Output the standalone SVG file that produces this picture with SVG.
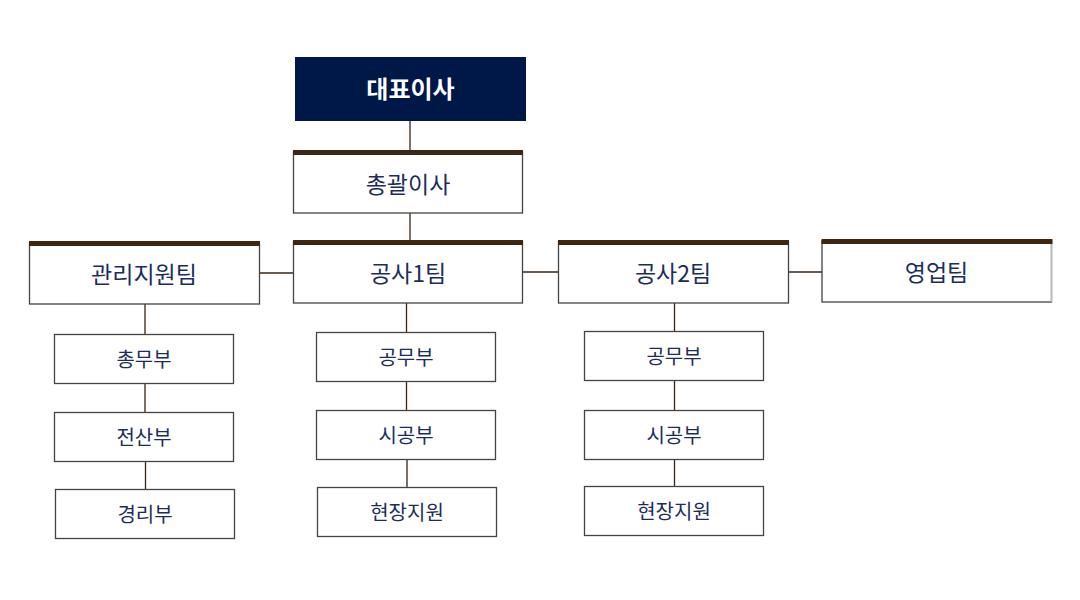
<svg xmlns="http://www.w3.org/2000/svg" width="1080" height="600" viewBox="0 0 1080 600">
<style>
.box{fill:#fff;stroke:#444;stroke-width:1.3}
.bar{fill:#3f2613}
.t{font-family:"Noto Sans CJK KR","Noto Sans",sans-serif;fill:#1c2d5c;text-anchor:middle;dominant-baseline:central}
.lg{font-size:23px;font-weight:400}
.sm{font-size:20px;font-weight:400}
.ln{stroke:#3a2414;stroke-width:1.3;fill:none}
</style>
<rect width="1080" height="600" fill="#fff"/>
<g id="connectors">
<line class="ln" x1="410" y1="121" x2="410" y2="151"/>
<line class="ln" x1="410" y1="213" x2="410" y2="241"/>
<line class="ln" x1="259" y1="273" x2="293" y2="273"/>
<line class="ln" x1="522" y1="272" x2="558" y2="272"/>
<line class="ln" x1="788" y1="272" x2="822" y2="272"/>
<line class="ln" x1="145" y1="304" x2="145" y2="334"/>
<line class="ln" x1="145" y1="383" x2="145" y2="412"/>
<line class="ln" x1="145.5" y1="461" x2="145.5" y2="489"/>
<line class="ln" x1="406.5" y1="303" x2="406.5" y2="332"/>
<line class="ln" x1="406.5" y1="381" x2="406.5" y2="410"/>
<line class="ln" x1="407" y1="459" x2="407" y2="487"/>
<line class="ln" x1="674.5" y1="303" x2="674.5" y2="331"/>
<line class="ln" x1="674.5" y1="380" x2="674.5" y2="410"/>
<line class="ln" x1="674.5" y1="459" x2="674.5" y2="486"/>
</g>
<g id="ceo">
<rect x="295" y="57" width="231" height="64" fill="#001848"/>
<text class="t" x="410.5" y="87" font-size="24" font-weight="700" style="fill:#fff">대표이사</text>
</g>
<g id="gm">
<rect class="box" x="293.5" y="152" width="229" height="61"/>
<rect class="bar" x="293" y="150" width="230" height="5"/>
<text class="t lg" x="408" y="183">총괄이사</text>
</g>
<g id="admin">
<rect class="box" x="29.5" y="243" width="230" height="61"/>
<rect class="bar" x="29" y="241" width="231" height="5"/>
<text class="t lg" x="144" y="273">관리지원팀</text>
</g>
<g id="const1">
<rect class="box" x="293.5" y="242" width="229" height="61"/>
<rect class="bar" x="293" y="240" width="230" height="5"/>
<text class="t lg" x="408" y="272">공사1팀</text>
</g>
<g id="const2">
<rect class="box" x="558.5" y="242" width="230" height="61"/>
<rect class="bar" x="558" y="240" width="231" height="5"/>
<text class="t lg" x="673" y="272">공사2팀</text>
</g>
<g id="sales">
<rect class="box" x="822" y="241" width="229.5" height="61"/>
<line x1="1051.5" y1="241" x2="1051.5" y2="302" stroke="#bbb" stroke-width="1.5"/>
<rect class="bar" x="821.5" y="239" width="231" height="5"/>
<text class="t lg" x="936.5" y="271">영업팀</text>
</g>
<g id="a1"><rect class="box" x="54.5" y="334.5" width="179" height="49"/><text class="t sm" x="144" y="358">총무부</text></g>
<g id="a2"><rect class="box" x="54.5" y="412.5" width="179" height="49"/><text class="t sm" x="144" y="436">전산부</text></g>
<g id="a3"><rect class="box" x="55.5" y="489.5" width="179" height="49"/><text class="t sm" x="145" y="513">경리부</text></g>
<g id="b1"><rect class="box" x="316.5" y="332.5" width="179" height="49"/><text class="t sm" x="406" y="356">공무부</text></g>
<g id="b2"><rect class="box" x="316.5" y="410.5" width="179" height="49"/><text class="t sm" x="406" y="434">시공부</text></g>
<g id="b3"><rect class="box" x="317.5" y="487.5" width="179" height="49"/><text class="t sm" x="407" y="511">현장지원</text></g>
<g id="c1"><rect class="box" x="584.5" y="331.5" width="179" height="49"/><text class="t sm" x="674" y="355">공무부</text></g>
<g id="c2"><rect class="box" x="584.5" y="410.5" width="179" height="49"/><text class="t sm" x="674" y="434">시공부</text></g>
<g id="c3"><rect class="box" x="584.5" y="486.5" width="179" height="49"/><text class="t sm" x="674" y="510">현장지원</text></g>
</svg>
